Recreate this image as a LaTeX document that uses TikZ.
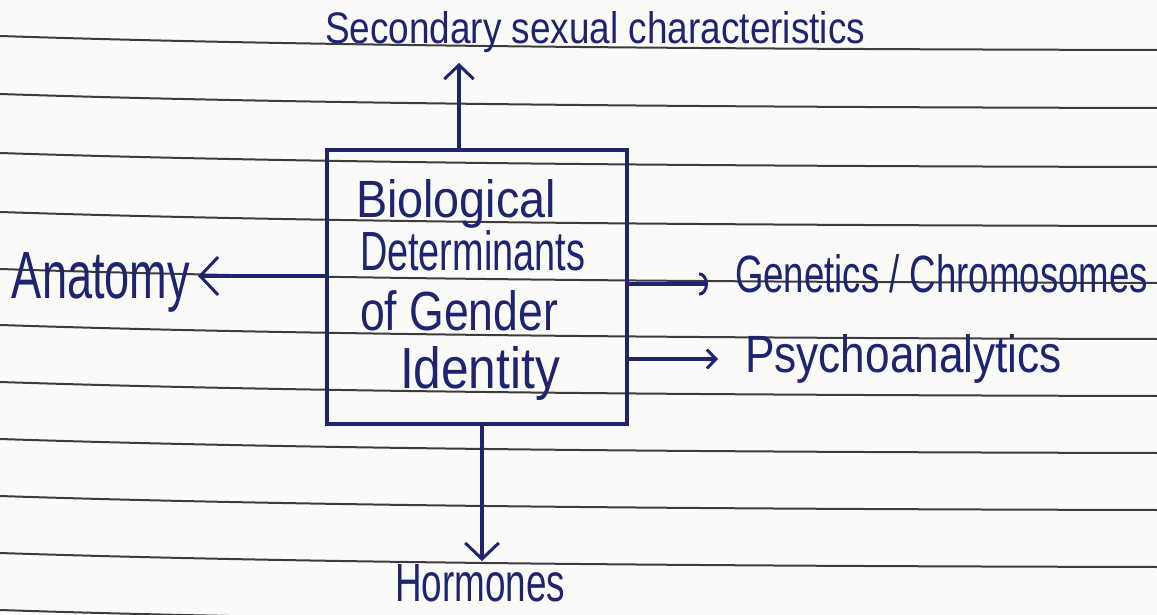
\documentclass[tikz,border=0pt]{standalone}
\usepackage{fontspec}
\setmainfont{Liberation Sans}
\usetikzlibrary{arrows.meta}
\definecolor{ink}{RGB}{30,36,112}
\definecolor{rule}{RGB}{62,60,58}
\definecolor{paper}{RGB}{250,250,248}
\newcommand\hand[3]{\resizebox{#1}{#2}{#3}}
\tikzset{
  label/.style={inner sep=0pt, outer sep=0pt, anchor=base west, text=ink},
  inkline/.style={draw=ink, line width=3.2pt, line cap=round, line join=round},
  vhead/.style={-{Straight Barb[length=#1, width=2.1*#1, line width=3pt]}},
  arcHead/.style={-{Arc Barb[length=#1, width=2.6*#1, line width=3pt]}},
  frame/.style={draw=ink, line width=3.2pt, minimum width=300pt, minimum height=274pt, inner sep=0pt}
}
\begin{document}
\begin{tikzpicture}[x=1pt,y=-1pt]
  \useasboundingbox (0,0) rectangle (1157,615);
  \fill[paper] (0,0) rectangle (1157,615);
  % ruled notebook lines
  \foreach \y in {36,94,153,212,269,325,382,439,496,553,610}
    \draw[rule, line width=2pt] (0,\y) .. controls (300,\y+10) and (700,\y+13) .. (1157,\y+14);

  % central box and its four lines of text
  \node[frame] (box) at (477,287) {};
  \node[label] (t1) at (356,218) {\hand{200pt}{38pt}{Biological}};
  \node[label] (t2) at (360,270) {\hand{225pt}{40pt}{Determinants}};
  \node[label] (t3) at (360,330) {\hand{198pt}{40pt}{of Gender}};
  \node[label] (t4) at (400,388) {\hand{160pt}{42pt}{Identity}};

  % surrounding labels
  \node[label] (sec) at (325,44) {\hand{540pt}{32pt}{Secondary sexual characteristics}};
  \node[label] (ana) at (12,298) {\hand{178pt}{46pt}{Anatomy}};
  \node[label] (gen) at (735,292) {\hand{413pt}{38pt}{Genetics / Chromosomes}};
  \node[label] (psy) at (745,372) {\hand{317pt}{38pt}{Psychoanalytics}};
  \node[label] (hor) at (395,601) {\hand{170pt}{37pt}{Hormones}};

  % arrow tips
  \coordinate (secTip) at (459,63);
  \coordinate (anaTip) at (198,276);
  \coordinate (genTip) at (708,284);
  \coordinate (psyTip) at (718,359);
  \coordinate (horTip) at (482,561);

  % connectors
  \draw[inkline, vhead=14pt] (box.north -| secTip) -- (secTip);
  \draw[inkline, vhead=18pt] (box.west |- anaTip) -- (anaTip);
  \draw[inkline, arcHead=9pt] (box.east |- genTip) -- (genTip);
  \draw[inkline, vhead=9pt] (box.east |- psyTip) -- (psyTip);
  \draw[inkline, vhead=16pt] (box.south -| horTip) -- (horTip);
\end{tikzpicture}
\end{document}
